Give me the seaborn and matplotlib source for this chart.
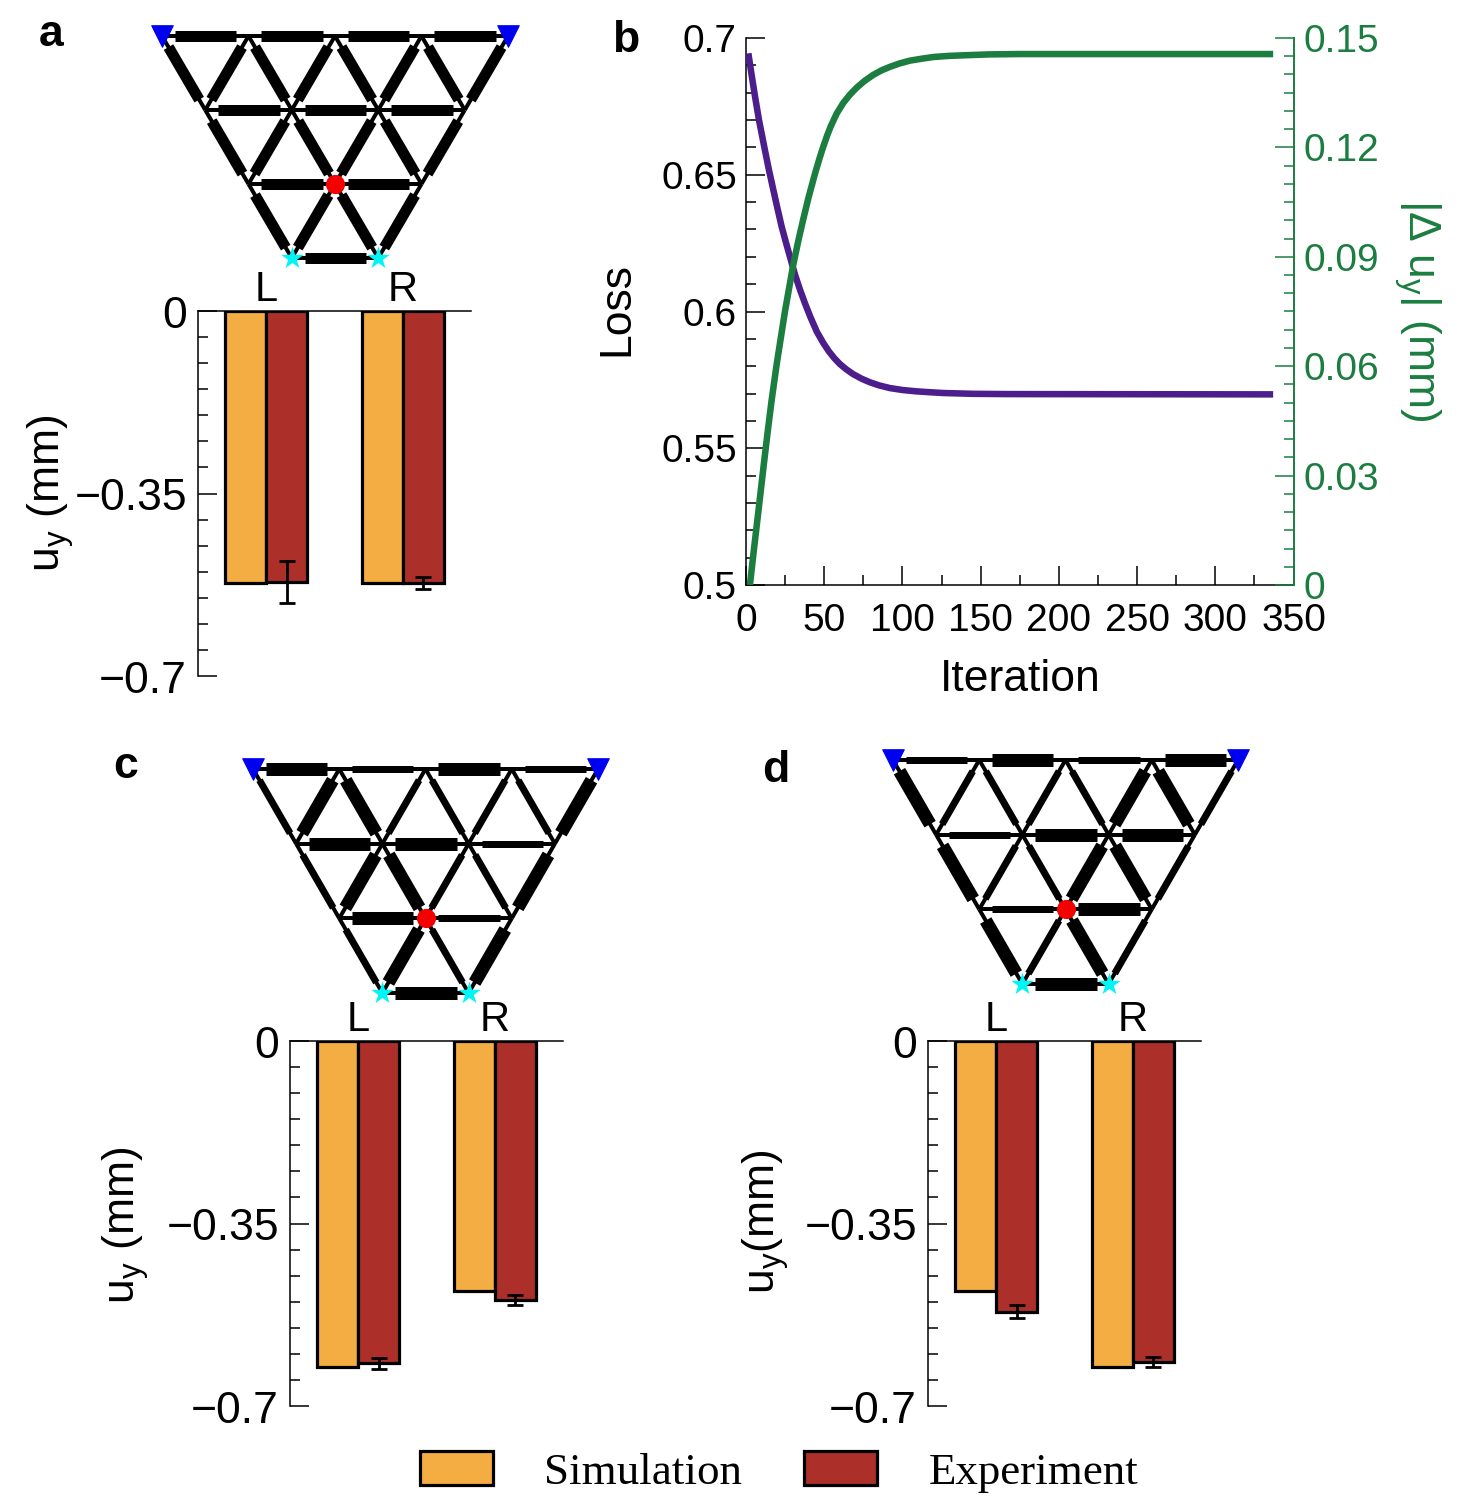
import numpy as np
import pandas as pd
import matplotlib
matplotlib.use("Agg")
import matplotlib.pyplot as plt
from matplotlib.patches import Patch
from matplotlib.ticker import MultipleLocator
from matplotlib.transforms import ScaledTranslation
import seaborn as sns

sns.set_theme(style="white")
plt.rcParams['font.family'] = ['Liberation Sans', 'DejaVu Sans']
plt.rcParams['mathtext.default'] = 'regular'
plt.rcParams['text.color'] = 'black'
plt.rcParams['xtick.labelcolor'] = 'black'
plt.rcParams['ytick.labelcolor'] = 'black'

W, H = 1465, 1512

# --- data ---
sides = ["L", "R"]
groups = ["Simulation", "Experiment"]
a_sim = [-0.522, -0.522]
a_exp = [-0.520, -0.522]
a_err = [0.040, 0.011]
c_sim = [-0.625, -0.479]
c_exp = [-0.618, -0.497]
c_err = [0.011, 0.010]
d_sim = [-0.479, -0.625]
d_exp = [-0.519, -0.616]
d_err = [0.013, 0.010]

loss_iter = [1.5, 3.5, 5.8, 8.3, 12.1, 14.5, 17.5, 20, 22.8, 25.5, 28.1, 31.3, 34.5, 37.7, 41, 45.2, 49.4, 53, 56.5,
             60, 64, 68.5, 74, 79.3, 85, 92, 100, 109, 117, 126, 145, 169, 337]
loss_vals = [0.6944, 0.6868, 0.6785, 0.6700, 0.6590, 0.6522, 0.6444, 0.6380, 0.6310, 0.6253, 0.6200, 0.6135,
             0.6080, 0.6030, 0.5982, 0.5927, 0.5885, 0.5854, 0.5829, 0.5808, 0.5789, 0.5771, 0.5754, 0.5741,
             0.5730, 0.5720, 0.5713, 0.5708, 0.5705, 0.5702, 0.5699, 0.5698, 0.5697]
delta_iter = [2.5, 5, 8, 11.5, 14, 16.4, 19.6, 24.9, 30.2, 33.5, 36.6, 40, 44.1, 47, 49.4, 52, 54.2, 58, 62.2, 66.5,
              70.8, 76, 81.4, 86.5, 92.1, 98, 104.9, 112, 120, 130, 142, 155, 175, 337]
delta_vals = [0.0, 0.0095, 0.0205, 0.0335, 0.0425, 0.0507, 0.0605, 0.0750, 0.0878, 0.0945, 0.1003, 0.1063, 0.1128,
              0.1170, 0.1202, 0.1234, 0.1258, 0.1293, 0.1322, 0.1345, 0.1364, 0.1383, 0.1399, 0.1411, 0.1421,
              0.1430, 0.1438, 0.1443, 0.1448, 0.1451, 0.1453, 0.1455, 0.1456, 0.1456]

# beam widths (px) : horizontals per row, "\" beams per row, "/" beams per row
T, M, A = 13, 7, 11
a_h = [[A, A, A, A], [A, A, A], [A, A], [A]]
a_dr = [[A, A, A, A], [A, A, A], [A, A]]
a_dl = [[A, A, A, A], [A, A, A], [A, A]]
c_h = [[T, M, T, M], [T, T, M], [T, M], [T]]
c_dr = [[M, T, M, M], [M, T, M], [M, M]]
c_dl = [[T, M, M, T], [T, M, T], [T, T]]
d_h = [[M, T, M, T], [M, T, T], [M, T], [T]]
d_dr = [[T, M, M, T], [T, M, T], [T, T]]
d_dl = [[M, M, T, M], [M, T, M], [M, M]]

colors = ["#F4AD42", "#AD2F2A"]
GREEN = "#1B7D3F"
PURPLE = "#4B1E8C"
LW = 1.1
PX = 72 / 100

fig = plt.figure(figsize=(W / 100, H / 100), dpi=100)


def axes_px(x0, y0, x1, y1, **kw):
    return fig.add_axes([x0 / W, 1 - y1 / H, (x1 - x0) / W, (y1 - y0) / H], **kw)


def bars(x0, y0, sim, exp, err, ylabel, label_x, label_y):
    ax = axes_px(x0, y0, x0 + 273, y0 + 365)
    df = pd.DataFrame({
        "side": sides * 2,
        "group": [groups[0]] * 2 + [groups[1]] * 2,
        "val": list(sim) + list(exp),
    })
    sns.barplot(data=df, x="side", y="val", hue="group", order=sides, hue_order=groups,
                palette=colors, width=0.6, gap=0, errorbar=None, legend=False, saturation=1,
                edgecolor="black", linewidth=2.3, ax=ax, zorder=2)
    for i, (v, e) in enumerate(zip(exp, err)):
        ax.errorbar(i + 0.15, v, yerr=e, color="black", capsize=5.5, elinewidth=2,
                    capthick=2, zorder=4, clip_on=False)
    ax.set_xlim(-0.5, 1.5)
    ax.set_ylim(-0.7, 0)
    ax.xaxis.tick_top()
    ax.tick_params(axis="x", length=0, labelsize=30, pad=1, top=False, labeltop=True, bottom=False,
                   labelcolor="black")
    ax.set_xlabel("")
    ax.set_yticks([0, -0.35, -0.7])
    ax.set_yticklabels(["0", "\u22120.35", "\u22120.7"])
    ax.yaxis.set_minor_locator(MultipleLocator(0.05))
    ax.tick_params(axis="y", which="major", direction="in", length=14, width=LW, labelsize=32,
                   pad=8, left=True, color="black", labelcolor="black")
    ax.tick_params(axis="y", which="minor", direction="in", length=7, width=LW, left=True, color="black")
    off = ScaledTranslation(0, -1 / 100, fig.dpi_scale_trans)
    for lab in ax.get_yticklabels():
        lab.set_transform(lab.get_transform() + off)
    for s in ["right", "bottom"]:
        ax.spines[s].set_visible(False)
    for s in ["left", "top"]:
        ax.spines[s].set_visible(True)
        ax.spines[s].set_color("black")
        ax.spines[s].set_linewidth(LW)
    ax.set_ylabel(ylabel, fontsize=32, color="black", va="center")
    ax.yaxis.set_label_coords((label_x - x0) / 273, 1 - (label_y - y0) / 365)
    return ax


def network(x_left, x_right, y_top, y_bottom, h, dr, dl):
    s = (x_right - x_left) / 4
    v = (y_bottom - y_top) / 3
    m = 30
    ax = axes_px(x_left - m, y_top - m, x_right + m, y_bottom + m)
    ax.set_xlim(-m / s, 4 + m / s)
    ax.set_ylim((3 * v + m) / v, -m / v)
    ax.axis("off")

    def node(r, c):
        return c + r / 2, r

    def beam(p, q, w):
        xs, ys = np.array([p[0], q[0]]), np.array([p[1], q[1]])
        ax.plot(xs, ys, color="black", lw=4 * PX, solid_capstyle="butt", zorder=1)
        ax.plot(xs[0] + (xs[1] - xs[0]) * np.array([0.15, 0.86]),
                ys[0] + (ys[1] - ys[0]) * np.array([0.15, 0.86]),
                color="black", lw=w * PX, solid_capstyle="butt", zorder=2)

    for r, row in enumerate(h):
        for c, w in enumerate(row):
            beam(node(r, c), node(r, c + 1), w)
    for r, row in enumerate(dr):
        for c, w in enumerate(row):
            beam(node(r, c), node(r + 1, c), w)
    for r, row in enumerate(dl):
        for c, w in enumerate(row):
            beam(node(r, c + 1), node(r + 1, c), w)
    for (r, c) in [(0, 0), (0, 4)]:
        ax.scatter(*node(r, c), marker="v", s=240, color="#0000F0", linewidths=0.8, zorder=5, clip_on=False)
    ax.scatter(*node(2, 1), marker="o", s=190, color="#F50000", linewidths=0, zorder=5)
    for (r, c) in [(3, 0), (3, 1)]:
        ax.scatter(*node(r, c), marker="*", s=290, color="#00F5F5", linewidths=0, zorder=5)


# --- bar panels ---
bars(198, 311, a_sim, a_exp, a_err, "u$_{y}$ (mm)", 51, 493)
bars(290, 1041, c_sim, c_exp, c_err, "u$_{y}$ (mm)", 126, 1225)
bars(928, 1041, d_sim, d_exp, d_err, "u$_{y}$(mm)", 766, 1222)

# --- networks ---
network(162, 508, 36, 258, a_h, a_dr, a_dl)
network(253, 598, 769, 993, c_h, c_dr, c_dl)
network(893, 1238, 760, 984, d_h, d_dr, d_dl)

# --- panel b ---
axb = axes_px(746, 38, 1293.5, 585)
sns.lineplot(x=loss_iter, y=loss_vals, color=PURPLE, lw=4.7, ax=axb, zorder=3, errorbar=None,
             solid_capstyle="butt")
axb.set_xlim(0, 350)
axb.set_ylim(0.5, 0.7)
axb.set_xticks(np.arange(0, 351, 50))
axb.xaxis.set_minor_locator(MultipleLocator(25))
axb.set_yticks([0.5, 0.55, 0.6, 0.65, 0.7])
axb.set_yticklabels(["0.5", "0.55", "0.6", "0.65", "0.7"])
axb.yaxis.set_minor_locator(MultipleLocator(0.01))
axb.tick_params(axis="x", which="major", direction="in", length=14, width=LW, labelsize=28,
                pad=13, bottom=True, color="black", labelcolor="black")
axb.tick_params(axis="y", which="major", direction="in", length=14, width=LW, labelsize=28,
                pad=6.5, left=True, color="black", labelcolor="black")
axb.tick_params(axis="both", which="minor", direction="in", length=7, width=LW, left=True, bottom=True, color="black")
axb.set_xlabel("Iteration", fontsize=32, color="black", va="center")
axb.set_ylabel("Loss", fontsize=32, color="black", va="center")
axb.xaxis.set_label_coords((1020 - 746) / 547.5, -(680 - 585) / 547)
axb.yaxis.set_label_coords((617 - 746) / 547.5, 1 - (309 - 38) / 547)
axb.spines["top"].set_visible(False)
for s in ["left", "bottom"]:
    axb.spines[s].set_visible(True)
    axb.spines[s].set_color("black")
    axb.spines[s].set_linewidth(LW)
axb.spines["right"].set_visible(False)

axr = axb.twinx()
sns.lineplot(x=delta_iter, y=delta_vals, color=GREEN, lw=4.7, ax=axr, zorder=3, errorbar=None,
             solid_capstyle="butt")
axr.set_ylim(0, 0.15)
axr.set_yticks([0, 0.03, 0.06, 0.09, 0.12, 0.15])
axr.set_yticklabels(["0", "0.03", "0.06", "0.09", "0.12", "0.15"])
axr.yaxis.set_minor_locator(MultipleLocator(0.005))
axr.tick_params(axis="y", which="major", direction="in", length=14, width=LW, labelsize=28, pad=7.5,
                right=True, color=GREEN, labelcolor=GREEN)
axr.tick_params(axis="y", which="minor", direction="in", length=7, width=LW, right=True, color=GREEN)
axr.set_ylabel("|\u0394 u$_{y}$| (mm)", fontsize=32, color=GREEN, rotation=-90, va="center", ha="center")
axr.yaxis.set_label_coords((1417 - 746) / 547.5, 1 - (310 - 38) / 547)
for s in axr.spines.values():
    s.set_visible(False)
axr.spines["right"].set_visible(True)
axr.spines["right"].set_color(GREEN)
axr.spines["right"].set_linewidth(LW + 0.3)

# --- letters ---
for letter, px, py in [("a", 51, 35), ("b", 626, 40), ("c", 126, 766), ("d", 776, 770)]:
    fig.text(px / W, 1 - py / H, letter, fontsize=32, fontweight="bold", color="black",
             ha="center", va="center")

# --- legend ---
handles = [Patch(facecolor=col, edgecolor="black", linewidth=2.3, label=g) for col, g in zip(colors, groups)]
fig.legend(handles=handles, loc="lower left", bbox_to_anchor=(420 / W, 1 - 1493 / H), ncols=2,
           frameon=False, prop={"family": "Liberation Serif", "size": 32.4}, borderpad=0, borderaxespad=0,
           handlelength=1.62, handleheight=0.79, handletextpad=1.14, columnspacing=1.38, labelcolor="black")

fig.savefig("out.png", dpi=100, facecolor="white")
